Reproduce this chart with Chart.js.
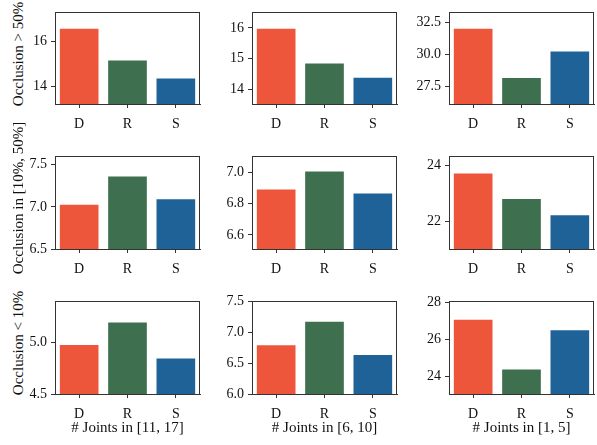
<!DOCTYPE html>
<html>
<head>
<meta charset="utf-8">
<script src="https://cdn.jsdelivr.net/npm/chart.js@4"></script>
<style>
html,body{margin:0;padding:0;background:#fff;}
#wrap{position:relative;width:597px;height:445px;overflow:hidden;background:#fff;}
.cell{position:absolute;}
.ylab{position:absolute;white-space:nowrap;font-family:'Liberation Serif','Times New Roman',serif;font-size:15px;color:#111;transform:translate(-50%,-50%) rotate(-90deg);line-height:1;}
</style>
</head>
<body>
<div id="wrap"></div>
<script>
const categories = ['D', 'R', 'S'];
const rowLabels = ['Occlusion > 50%', 'Occlusion in [10%, 50%]', 'Occlusion < 10%'];
const colLabels = ['# Joints in [11, 17]', '# Joints in [6, 10]', '# Joints in [1, 5]'];
const barColors = ['#EE563B', '#3E6F4F', '#1F6298'];

// values per panel [row][col]
const values_r0c0 = [16.56, 15.16, 14.36];
const values_r0c1 = [15.97, 14.85, 14.39];
const values_r0c2 = [32.0, 28.14, 30.21];
const values_r1c0 = [7.025, 7.36, 7.09];
const values_r1c1 = [6.889, 7.004, 6.864];
const values_r1c2 = [23.72, 22.81, 22.23];
const values_r2c0 = [4.977, 5.196, 4.845];
const values_r2c1 = [6.79, 7.17, 6.63];
const values_r2c2 = [27.06, 24.36, 26.48];

// y limits per panel
const ylim_r0c0 = [13.24, 17.28];
const ylim_r0c1 = [13.54, 16.5];
const ylim_r0c2 = [26.1, 33.28];
const ylim_r1c0 = [6.5, 7.6];
const ylim_r1c1 = [6.51, 7.1];
const ylim_r1c2 = [21.03, 24.33];
const ylim_r2c0 = [4.5, 5.4];
const ylim_r2c1 = [6.0, 7.5];
const ylim_r2c2 = [23.03, 28.05];

// tick labels per panel
const ticks_r0c0 = ['14', '16'];
const ticks_r0c1 = ['14', '15', '16'];
const ticks_r0c2 = ['27.5', '30.0', '32.5'];
const ticks_r1c0 = ['6.5', '7.0', '7.5'];
const ticks_r1c1 = ['6.6', '6.8', '7.0'];
const ticks_r1c2 = ['22', '24'];
const ticks_r2c0 = ['4.5', '5.0'];
const ticks_r2c1 = ['6.0', '6.5', '7.0', '7.5'];
const ticks_r2c2 = ['24', '26', '28'];

const panels = [
  [[values_r0c0, ylim_r0c0, ticks_r0c0], [values_r0c1, ylim_r0c1, ticks_r0c1], [values_r0c2, ylim_r0c2, ticks_r0c2]],
  [[values_r1c0, ylim_r1c0, ticks_r1c0], [values_r1c1, ylim_r1c1, ticks_r1c1], [values_r1c2, ylim_r1c2, ticks_r1c2]],
  [[values_r2c0, ylim_r2c0, ticks_r2c0], [values_r2c1, ylim_r2c1, ticks_r2c1], [values_r2c2, ylim_r2c2, ticks_r2c2]]
];

const FONT = "'Liberation Serif', 'Times New Roman', serif";
const AXC = '#333333';
const panelLeft = [55, 252, 449];
const panelTop = [3, 147, 292];
const panelW = 145;
const panelH = [101, 102, 102];
const yAxisW = 55;
const topPad = 3;
const rightPad = 2;

const framePlugin = {
  id: 'frame',
  afterDatasetsDraw(chart) {
    const {ctx, chartArea: a} = chart;
    ctx.save();
    ctx.strokeStyle = AXC;
    ctx.lineWidth = 1;
    ctx.strokeRect(Math.round(a.left) + 0.5, Math.round(a.top) + 0.5, Math.round(a.right - a.left) - 1, Math.round(a.bottom - a.top));
    ctx.restore();
  }
};

const wrap = document.getElementById('wrap');
for (let r = 0; r < 3; r++) {
  const lab = document.createElement('div');
  lab.className = 'ylab';
  lab.textContent = rowLabels[r];
  lab.style.left = '18px';
  lab.style.top = (panelTop[r] + panelH[r] / 2) + 'px';
  wrap.appendChild(lab);
  for (let c = 0; c < 3; c++) {
    const [vals, ylim, tlabels] = panels[r][c];
    const xAxisH = r === 2 ? (445 - panelTop[r] - panelH[r]) : 40;
    const w = yAxisW + panelW + rightPad;
    const h = topPad + panelH[r] + xAxisH;
    const div = document.createElement('div');
    div.className = 'cell';
    div.style.left = (panelLeft[c] - yAxisW) + 'px';
    div.style.top = (panelTop[r] - topPad) + 'px';
    div.style.width = w + 'px';
    div.style.height = h + 'px';
    const cv = document.createElement('canvas');
    div.appendChild(cv);
    wrap.appendChild(div);
    const tickVals = tlabels.map(parseFloat);
    new Chart(cv, {
      type: 'bar',
      data: {
        labels: categories,
        datasets: [{
          data: vals,
          backgroundColor: barColors,
          borderWidth: 0,
          barPercentage: 0.8,
          categoryPercentage: 1.0
        }]
      },
      options: {
        responsive: true,
        maintainAspectRatio: false,
        animation: false,
        devicePixelRatio: 1,
        layout: {padding: {top: topPad, right: rightPad, left: 0, bottom: 0}},
        plugins: {legend: {display: false}, tooltip: {enabled: false}},
        scales: {
          x: {
            type: 'category',
            offset: true,
            grid: {display: true, drawOnChartArea: false, drawTicks: true, tickLength: 4, color: AXC, offset: false},
            border: {display: true, color: AXC, width: 1},
            ticks: {color: '#111', font: {family: FONT, size: 14}, padding: 8, maxRotation: 0},
            title: {display: r === 2, text: colLabels[c], color: '#111', font: {family: FONT, size: 15}, padding: {top: 0, bottom: 8}},
            afterFit(scale) { scale.height = xAxisH; }
          },
          y: {
            type: 'linear',
            min: ylim[0],
            max: ylim[1],
            grid: {display: true, drawOnChartArea: false, drawTicks: true, tickLength: 4, color: AXC},
            border: {display: true, color: AXC, width: 1},
            ticks: {color: '#111', font: {family: FONT, size: 14}, padding: 4,
              callback: (v) => { const i = tickVals.indexOf(v); return i >= 0 ? tlabels[i] : ''; }},
            title: {display: false},
            afterBuildTicks(scale) { scale.ticks = tickVals.map(v => ({value: v})); },
            afterFit(scale) { scale.width = yAxisW; }
          }
        }
      },
      plugins: [framePlugin]
    });
  }
}
</script>
</body>
</html>
